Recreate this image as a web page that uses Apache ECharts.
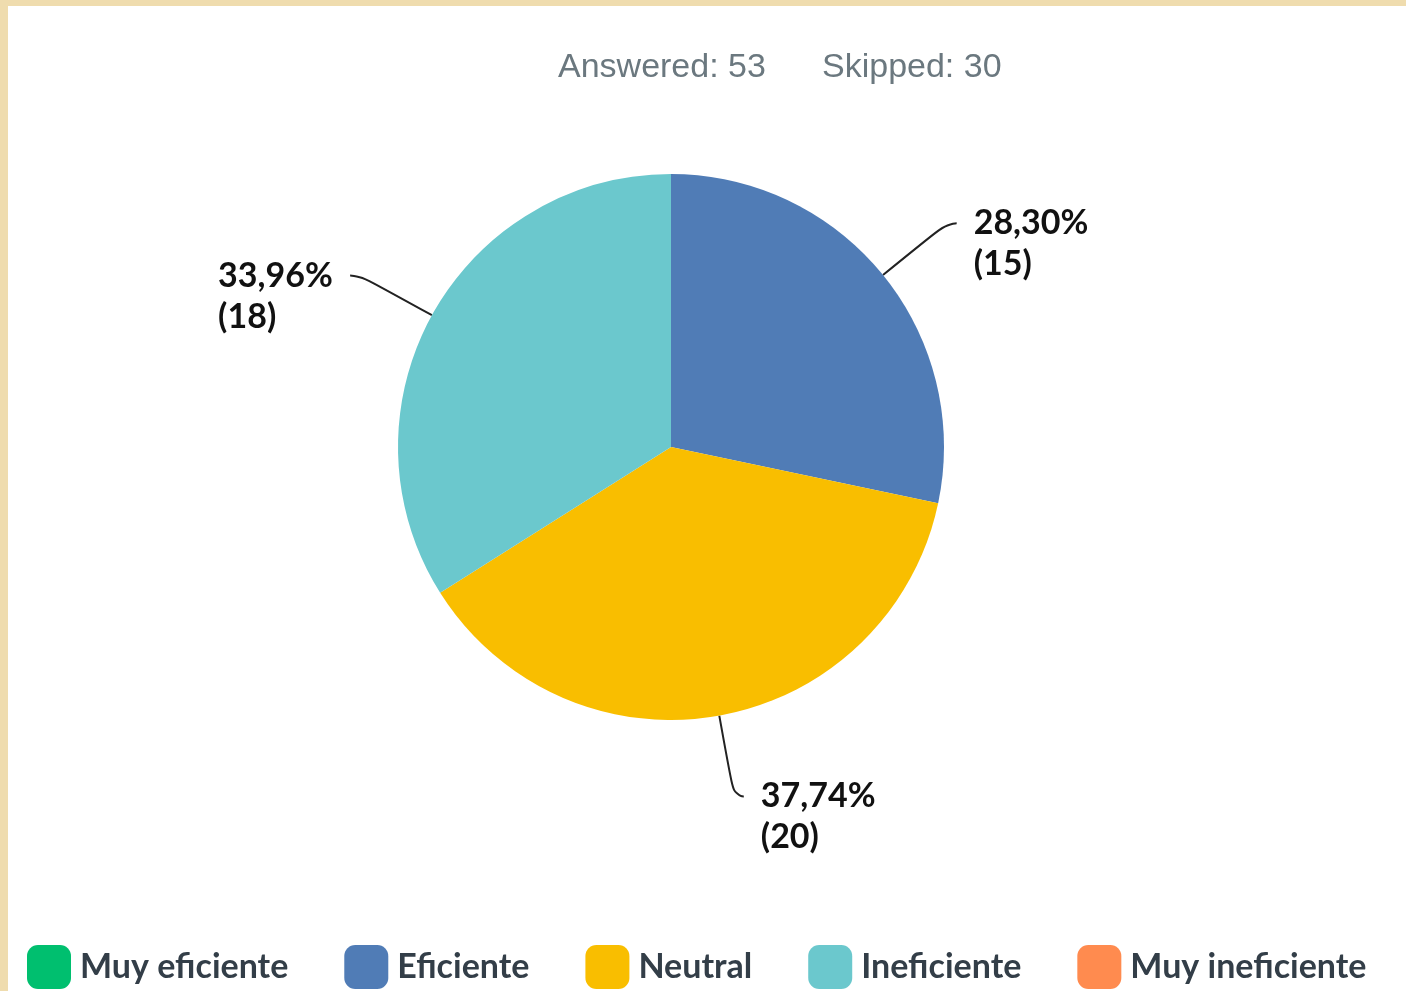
<!DOCTYPE html>
<html>
<head>
<meta charset="utf-8">
<script src="https://cdn.jsdelivr.net/npm/echarts@6/dist/echarts.min.js"></script>
<style>
  html, body { margin: 0; padding: 0; background: #efdcae; }
  #chart { position: absolute; left: 8px; top: 6px; width: 1398px; height: 985px; background: #fff; }
</style>
</head>
<body>
<div id="chart"></div>
<script>
const categories = ['Muy eficiente', 'Eficiente', 'Neutral', 'Ineficiente', 'Muy ineficiente']
const counts = [0, 15, 20, 18, 0]
const colors = ['#00bf6f', '#507cb6', '#f9be00', '#6bc8cd', '#ff8b4f']
const answered = 53
const skipped = 30

const total = counts.reduce((a, b) => a + b, 0)
const fmtPct = (v) => (v / total * 100).toFixed(2).replace('.', ',') + '%'

const labelFont = 'bold 34px Lato'
const ctx = document.createElement('canvas').getContext('2d')
ctx.font = labelFont
const textW = (s) => Math.ceil(ctx.measureText(s).width)

const chart = echarts.init(document.getElementById('chart'))

const data = categories.map((name, i) => {
  const item = { name, value: counts[i], itemStyle: { color: colors[i] } }
  if (counts[i] === 0) {
    item.label = { show: false }
    item.labelLine = { show: false }
  } else {
    // each label block as wide as its percentage line, lines left-aligned inside
    const w = textW(fmtPct(counts[i]))
    item.label = {
      rich: {
        e: { width: w, lineHeight: 41, align: 'left' },
        p: { width: w, lineHeight: 41, align: 'left' }
      }
    }
  }
  return item
})

chart.setOption({
  animation: false,
  title: [
    {
      text: 'Answered: ' + answered,
      left: 550, top: 45, padding: 0,
      textStyle: { fontFamily: 'Liberation Sans', fontSize: 34, fontWeight: 'normal', color: '#6b787f' }
    },
    {
      text: 'Skipped: ' + skipped,
      left: 814, top: 45, padding: 0,
      textStyle: { fontFamily: 'Liberation Sans', fontSize: 34, fontWeight: 'normal', color: '#6b787f' }
    }
  ],
  legend: {
    left: 19,
    top: 939,
    padding: 0,
    itemWidth: 44,
    itemHeight: 44,
    itemGap: 56,
    icon: 'roundRect',
    selectedMode: false,
    data: categories,
    textStyle: {
      fontFamily: 'Lato', fontWeight: 'bold', fontSize: 34, color: '#333e48',
      padding: [0, 0, 6, 4]
    }
  },
  series: [
    {
      type: 'pie',
      center: [663, 441],
      radius: 273,
      startAngle: 90,
      clockwise: true,
      avoidLabelOverlap: false,
      data,
      label: {
        show: true,
        position: 'outside',
        formatter: (p) => '{e| }\n{p|' + fmtPct(p.value) + '}\n{p|(' + p.value + ')}',
        fontFamily: 'Lato', fontWeight: 'bold', fontSize: 34, color: '#111',
        lineHeight: 41,
        distanceToLabelLine: 17
      },
      labelLine: {
        show: true,
        length: 82,
        length2: 10,
        smooth: 0.7,
        lineStyle: { color: '#222', width: 2 }
      }
    }
  ]
})
</script>
</body>
</html>
